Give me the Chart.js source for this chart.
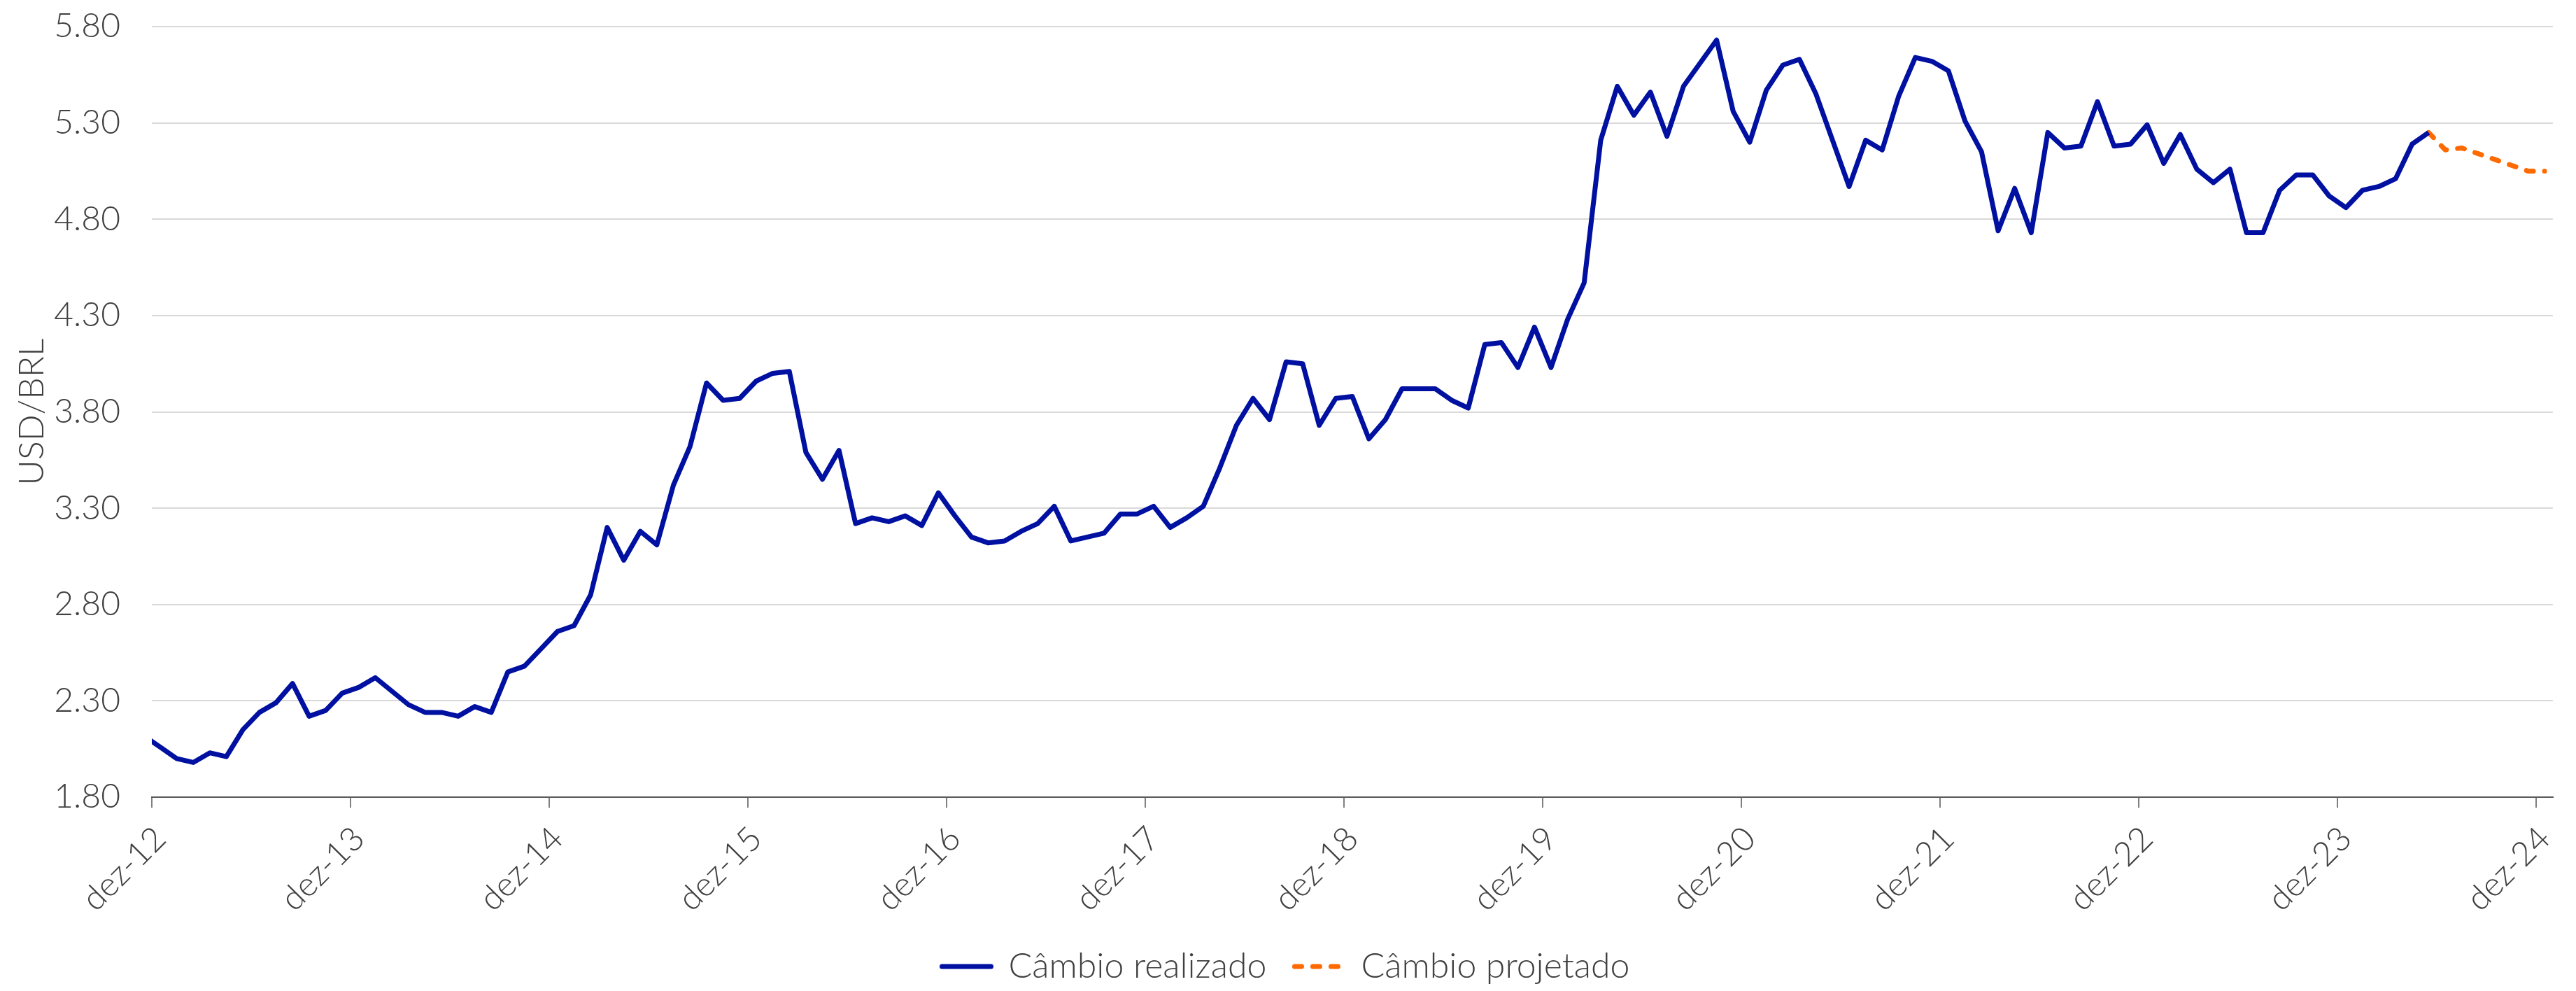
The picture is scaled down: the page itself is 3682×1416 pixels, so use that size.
<!DOCTYPE html>
<html lang="pt-BR">
<head>
<meta charset="utf-8">
<title>Câmbio USD/BRL</title>
<script src="https://cdn.jsdelivr.net/npm/chart.js@4.4.1/dist/chart.umd.min.js"></script>
<style>
  html, body { margin: 0; padding: 0; background: #fff; }
  #wrap { width: 3682px; height: 1416px; position: relative; }
</style>
</head>
<body>
<div id="wrap"><canvas id="cambioChart"></canvas></div>
<script>
// rótulos do eixo x (um por ano)
const rotulosEixo = ['dez-12', 'dez-13', 'dez-14', 'dez-15', 'dez-16', 'dez-17', 'dez-18',
                     'dez-19', 'dez-20', 'dez-21', 'dez-22', 'dez-23', 'dez-24'];

const nomesMes = ['jan', 'fev', 'mar', 'abr', 'mai', 'jun', 'jul', 'ago', 'set', 'out', 'nov', 'dez'];

// meses do câmbio realizado: nov-12 até mai-24
const mesesRealizado = [];
for (let i = 0; i < 139; i++) {
    const m = 10 + i;
    mesesRealizado.push(nomesMes[m % 12] + '-' + (12 + Math.floor(m / 12)));
}

const cambioRealizado = [
    2.12, 2.06, 2.00, 1.98, 2.03, 2.01, 2.15, 2.24, 2.29, 2.39, 2.22, 2.25,
    2.34, 2.37, 2.42, 2.35, 2.28, 2.24, 2.24, 2.22, 2.27, 2.24, 2.45, 2.48,
    2.57, 2.66, 2.69, 2.85, 3.20, 3.03, 3.18, 3.11, 3.42, 3.62, 3.95, 3.86,
    3.87, 3.96, 4.00, 4.01, 3.59, 3.45, 3.60, 3.22, 3.25, 3.23, 3.26, 3.21,
    3.38, 3.26, 3.15, 3.12, 3.13, 3.18, 3.22, 3.31, 3.13, 3.15, 3.17, 3.27,
    3.27, 3.31, 3.20, 3.25, 3.31, 3.51, 3.73, 3.87, 3.76, 4.06, 4.05, 3.73,
    3.87, 3.88, 3.66, 3.76, 3.92, 3.92, 3.92, 3.86, 3.82, 4.15, 4.16, 4.03,
    4.24, 4.03, 4.28, 4.47, 5.21, 5.49, 5.34, 5.46, 5.23, 5.49, 5.61, 5.73,
    5.36, 5.20, 5.47, 5.60, 5.63, 5.45, 5.21, 4.97, 5.21, 5.16, 5.44, 5.64,
    5.62, 5.57, 5.31, 5.15, 4.74, 4.96, 4.73, 5.25, 5.17, 5.18, 5.41, 5.18,
    5.19, 5.29, 5.09, 5.24, 5.06, 4.99, 5.06, 4.73, 4.73, 4.95, 5.03, 5.03,
    4.92, 4.86, 4.95, 4.97, 5.01, 5.19, 5.25
];

// câmbio projetado: mai-24 até dez-24
const mesesProjetado = ['mai-24', 'jun-24', 'jul-24', 'ago-24', 'set-24', 'out-24', 'nov-24', 'dez-24'];
const cambioProjetado = [5.25, 5.16, 5.17, 5.14, 5.11, 5.08, 5.05, 5.05];

// posição no eixo: meses desde dez-12, ponto no meio do mês
function posMes(rotulo) {
    const [mes, ano] = rotulo.split('-');
    const n = (parseInt(ano, 10) - 12) * 12 + nomesMes.indexOf(mes) - 11;
    return n + 0.5;
}

const pontosRealizado = mesesRealizado.map((m, i) => ({ x: posMes(m), y: cambioRealizado[i] }));
const pontosProjetado = mesesProjetado.map((m, i) => ({ x: posMes(m), y: cambioProjetado[i] }));

const familia = 'Lato, "Open Sans", sans-serif';
const fonteTicks = { family: familia, size: 48, weight: '300' };
const corTexto = '#404040';

const ctx = document.getElementById('cambioChart').getContext('2d');
const cambioChart = new Chart(ctx, {
    type: 'line',
    data: {
        datasets: [
            {
                label: 'Câmbio realizado',
                data: pontosRealizado,
                borderColor: '#0010a0',
                backgroundColor: '#0010a0',
                borderWidth: 7,
                borderJoinStyle: 'round',
                pointRadius: 0,
                tension: 0,
                clip: 0,
            },
            {
                label: 'Câmbio projetado',
                data: pontosProjetado,
                borderColor: '#ff6a00',
                backgroundColor: '#ff6a00',
                borderWidth: 7,
                borderDash: [10, 16],
                borderCapStyle: 'round',
                borderJoinStyle: 'round',
                pointRadius: 0,
                tension: 0,
                clip: 0,
            }
        ]
    },
    options: {
        responsive: true,
        maintainAspectRatio: false,
        animation: false,
        layout: { padding: { top: 38, right: 6, bottom: 0, left: 0 } },
        plugins: {
            tooltip: { enabled: false },
            legend: {
                position: 'bottom',
                labels: {
                    usePointStyle: true,
                    pointStyle: 'line',
                    pointStyleWidth: 70,
                    font: { family: familia, size: 50, weight: '300' },
                    color: corTexto,
                    padding: 40,
                    // amostra de linha com o mesmo traço da série
                    generateLabels: (chart) => {
                        const itens = Chart.defaults.plugins.legend.labels.generateLabels(chart);
                        itens.forEach((it) => {
                            const ds = chart.data.datasets[it.datasetIndex];
                            it.pointStyle = 'line';
                            it.strokeStyle = ds.borderColor;
                            it.lineWidth = ds.borderWidth;
                            it.lineDash = ds.borderDash || [];
                            it.lineCap = 'round';
                        });
                        return itens;
                    }
                }
            }
        },
        scales: {
            x: {
                type: 'linear',
                min: 0,
                max: 145,
                afterBuildTicks: (s) => {
                    s.ticks = rotulosEixo.map((r, i) => ({ value: i * 12 }));
                },
                afterFit: (s) => { s.height = 177; },
                ticks: {
                    autoSkip: false,
                    maxRotation: 45,
                    minRotation: 45,
                    padding: 16,
                    labelOffset: 12,
                    font: fonteTicks,
                    color: corTexto,
                    callback: (v, i) => rotulosEixo[i]
                },
                grid: {
                    drawOnChartArea: false,
                    drawTicks: true,
                    tickLength: 15,
                    color: '#7f7f7f',
                    lineWidth: 2
                },
                border: { display: true, color: '#595959', width: 2 }
            },
            y: {
                min: 1.8,
                max: 5.8,
                afterFit: (s) => {
                    s.width = 217;
                    s.paddingTop = 0;
                    s.paddingBottom = 0;
                },
                ticks: {
                    stepSize: 0.5,
                    padding: 45,
                    font: fonteTicks,
                    color: corTexto,
                    callback: (v) => v.toFixed(2)
                },
                grid: { color: '#d9d9d9', lineWidth: 2, drawTicks: false },
                border: { display: false },
                title: {
                    display: true,
                    text: 'USD/BRL',
                    font: { family: familia, size: 50, weight: '300' },
                    color: corTexto,
                    padding: { top: 16, bottom: 0 }
                }
            }
        }
    }
});
</script>
</body>
</html>
